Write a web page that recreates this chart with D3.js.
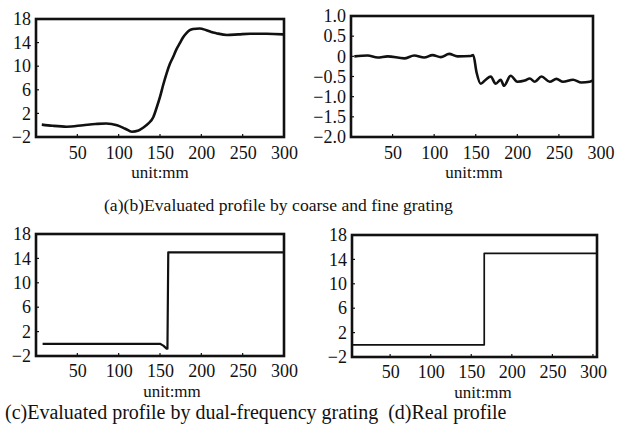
<!DOCTYPE html>
<html>
<head>
<meta charset="utf-8">
<script src="https://cdn.jsdelivr.net/npm/d3@7"></script>
<style>
  body { margin: 0; background: #fff; }
  svg text { font-family: 'Liberation Serif', 'Times New Roman', serif; fill: #111; }
</style>
</head>
<body>
<div></div>
<script>
// data (x in mm)

const xTicks = [50, 100, 150, 200, 250, 300];
const yTicksProfile = [-2, 2, 6, 10, 14, 18];
const yTicksFine = [-2.0, -1.5, -1.0, -0.5, 0, 0.5, 1.0];

// (a) coarse grating
const coarseX = [7, 20, 37, 57, 72, 85, 98, 108, 116, 124, 130, 136, 142, 146, 150, 154, 158, 162, 166, 170, 174, 178, 182, 186, 190, 198, 206, 212, 218, 231, 245, 259, 279, 299];
const coarseY = [0.1, -0.1, -0.25, 0.0, 0.2, 0.3, 0.0, -0.6, -1.1, -0.9, -0.4, 0.3, 1.4, 3.0, 4.8, 6.9, 8.8, 10.4, 11.6, 12.9, 13.9, 14.9, 15.6, 16.1, 16.3, 16.4, 16.1, 15.8, 15.6, 15.3, 15.4, 15.5, 15.5, 15.4];

// (b) fine grating
const fineX = [4, 20, 32, 44, 64, 76, 88, 98, 108, 118, 128, 144, 147, 151, 156, 162, 168, 174, 180, 184, 192, 200, 209, 215, 221, 229, 239, 247, 255, 267, 277, 287, 291];
const fineY = [0.0, 0.02, -0.03, 0.0, -0.05, 0.02, -0.03, 0.03, -0.02, 0.06, 0.0, 0.01, 0.03, -0.4, -0.68, -0.58, -0.5, -0.68, -0.58, -0.73, -0.48, -0.63, -0.6, -0.55, -0.63, -0.5, -0.63, -0.56, -0.63, -0.58, -0.65, -0.63, -0.6];

// (c) dual-frequency grating
const dualX = [8, 150, 154, 158, 159, 160, 300];
const dualY = [0.0, 0.0, -0.3, -0.8, -0.8, 15.0, 15.0];

// (d) real profile
const realX = [3, 166, 166, 305];
const realY = [0.0, 0.0, 15.0, 15.0];

const unitLabel = 'unit:mm';
const captionTop = '(a)(b)Evaluated profile by coarse and fine grating';
const captionBottom = '(c)Evaluated profile by dual-frequency grating\u00a0\u00a0(d)Real profile';

// layout

const w = 627;
const h = 430;

const panels = [
  { xs: coarseX, ys: coarseY, xDom: [0, 300], xR: [36, 284], yDom: [-2, 18], yR: [137, 19], yT: yTicksProfile, fmt: d3.format('d'), lw: 2.6, unitX: 160 },
  { xs: fineX, ys: fineY, xDom: [0, 291], xR: [351, 593], yDom: [-2, 1], yR: [137, 16], yT: yTicksFine, fmt: (d) => (d === 0 ? '0' : d3.format('.1f')(d)), lw: 2.6, unitX: 474 },
  { xs: dualX, ys: dualY, xDom: [0, 300], xR: [36, 284], yDom: [-2, 18], yR: [356, 234], yT: yTicksProfile, fmt: d3.format('d'), lw: 2.2, unitX: 172 },
  { xs: realX, ys: realY, xDom: [3, 305], xR: [352, 597], yDom: [-2, 18], yR: [357, 235], yT: yTicksProfile, fmt: d3.format('d'), lw: 1.7, unitX: 483 },
];

const svg = d3
  .select('body')
  .select('div')
  .append('svg')
  .attr('width', w)
  .attr('height', h);

panels.forEach((p) => {
  const xScale = d3.scaleLinear().domain(p.xDom).range(p.xR);
  const yScale = d3.scaleLinear().domain(p.yDom).range(p.yR);
  const bottom = p.yR[0];
  const left = p.xR[0];

  const xAxis = d3.axisBottom(xScale).tickValues(xTicks).tickSize(0).tickPadding(bottom > 200 ? 8 : 9);
  const yAxis = d3.axisLeft(yScale).tickValues(p.yT).tickFormat(p.fmt).tickSize(0).tickPadding(5);

  const gx = svg
    .append('g')
    .attr('transform', 'translate(0,' + bottom + ')')
    .call(xAxis);
  gx.select('.domain').remove();
  gx.selectAll('text').attr('font-size', 18).attr('fill', '#111');

  const gy = svg
    .append('g')
    .attr('transform', 'translate(' + left + ',0)')
    .call(yAxis);
  gy.select('.domain').remove();
  gy.selectAll('text').attr('font-size', 18).attr('fill', '#111');

  // small inward tick marks
  svg
    .append('g')
    .selectAll('line')
    .data(xTicks.filter((t) => xScale(t) < p.xR[1] - 2))
    .enter()
    .append('line')
    .attr('x1', (d) => xScale(d))
    .attr('x2', (d) => xScale(d))
    .attr('y1', bottom)
    .attr('y2', bottom - 3)
    .attr('stroke', '#111')
    .attr('stroke-width', 1.2);

  svg
    .append('g')
    .selectAll('line')
    .data(p.yT)
    .enter()
    .append('line')
    .attr('x1', left)
    .attr('x2', left + 3)
    .attr('y1', (d) => yScale(d))
    .attr('y2', (d) => yScale(d))
    .attr('stroke', '#111')
    .attr('stroke-width', 1.2);

  // frame
  svg
    .append('rect')
    .attr('x', left)
    .attr('y', p.yR[1])
    .attr('width', p.xR[1] - left)
    .attr('height', bottom - p.yR[1])
    .attr('fill', 'none')
    .attr('stroke', '#111')
    .attr('stroke-width', 2.6);

  const line = d3
    .line()
    .x((d, i) => xScale(p.xs[i]))
    .y((d) => yScale(d))
    .curve(p.xs.length > 10 ? d3.curveMonotoneX : d3.curveLinear);

  svg
    .append('path')
    .datum(p.ys)
    .attr('d', line)
    .attr('fill', 'none')
    .attr('stroke', '#111')
    .attr('stroke-width', p.lw)
    .attr('stroke-linejoin', 'round');

  svg
    .append('text')
    .attr('x', p.unitX)
    .attr('y', bottom + 41)
    .attr('text-anchor', 'middle')
    .attr('font-size', 17)
    .text(unitLabel);
});

svg
  .append('text')
  .attr('x', 104)
  .attr('y', 211)
  .attr('font-size', 17.6)
  .text(captionTop);

svg
  .append('text')
  .attr('x', 5)
  .attr('y', 419)
  .attr('font-size', 20)
  .text(captionBottom);
</script>
</body>
</html>
